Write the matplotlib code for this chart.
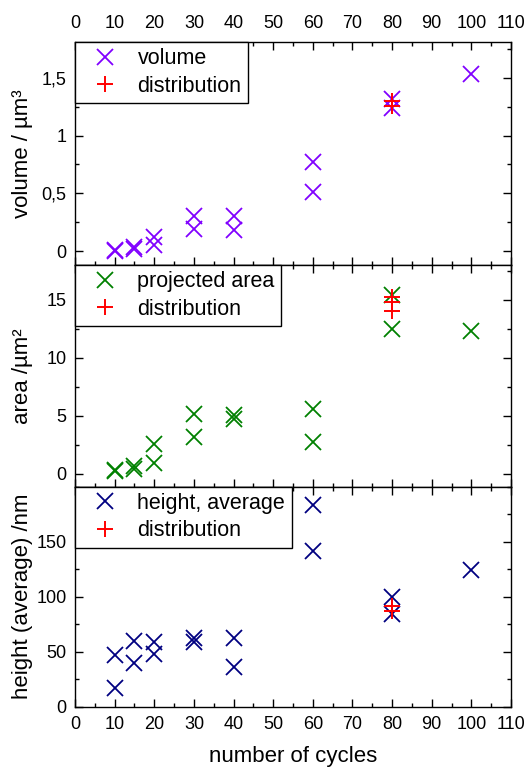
import matplotlib
matplotlib.use("Agg")
import matplotlib.pyplot as plt
from matplotlib.ticker import MultipleLocator, FixedLocator, FuncFormatter

plt.rcParams['font.family'] = ['Liberation Sans', 'DejaVu Sans']

# number of cycles for each measured sample
cycles = [10, 10, 15, 15, 20, 20, 30, 30, 40, 40, 60, 60, 80, 80, 100]
dist_cycles_vol = [80, 80]
dist_cycles_area = [80, 80, 80]
dist_cycles_height = [80, 80]

# particle volume (µm³)
volume = [0.00, 0.01, 0.02, 0.04, 0.12, 0.05, 0.30, 0.19, 0.30, 0.18,
          0.77, 0.51, 1.32, 1.24, 1.53]
volume_dist = [1.30, 1.26]

# projected area (µm²)
area = [0.25, 0.35, 0.45, 0.65, 2.6, 0.9, 5.15, 3.2, 5.1, 4.75,
        5.55, 2.75, 15.4, 12.5, 12.3]
area_dist = [15.25, 14.85, 14.05]

# average height (nm)
height = [47, 16.5, 60, 39.5, 59, 47.5, 62, 59, 62.5, 36,
          183.5, 141, 100, 84, 124.5]
height_dist = [91, 87]

x_ticks = list(range(0, 111, 10))

panels = [
    dict(y=volume, yd=dist_cycles_vol, ydv=volume_dist, color='#8000FF',
         label='volume', ylabel='volume / µm³', ylim=(-0.12, 1.81),
         minor=0.25, ticks=[0, 0.5, 1, 1.5]),
    dict(y=area, yd=dist_cycles_area, ydv=area_dist, color='#008000',
         label='projected area', ylabel='area /µm²', ylim=(-1.1, 18.0),
         minor=2.5, ticks=[0, 5, 10, 15]),
    dict(y=height, yd=dist_cycles_height, ydv=height_dist, color='#000080',
         label='height, average', ylabel='height (average) /nm', ylim=(0, 200),
         minor=25, ticks=[0, 50, 100, 150]),
]

fig = plt.figure(figsize=(5.28, 7.67), dpi=100)
left, right = 75 / 528, 511 / 528
edges = [42, 265, 486.5, 706.5]

def comma_fmt(v, pos):
    return ('%g' % v).replace('.', ',')

axes = []
for i, p in enumerate(panels):
    top = 1 - edges[i] / 767
    bot = 1 - edges[i + 1] / 767
    ax = fig.add_axes([left, bot, right - left, top - bot])
    axes.append(ax)
    ax.plot(cycles, p['y'], linestyle='none', marker='x', markersize=11,
            markeredgewidth=1.3, color=p['color'], label=p['label'], zorder=3)
    ax.plot(p['yd'], p['ydv'], linestyle='none', marker='+', markersize=12,
            markeredgewidth=1.4, color='#FF0000', label='distribution', zorder=4)
    ax.set_xlim(0, 110)
    ax.set_ylim(*p['ylim'])
    ax.xaxis.set_major_locator(FixedLocator(x_ticks))
    ax.xaxis.set_minor_locator(MultipleLocator(5))
    ax.yaxis.set_major_locator(FixedLocator(p['ticks']))
    ax.yaxis.set_minor_locator(MultipleLocator(p['minor']))
    ax.yaxis.set_major_formatter(FuncFormatter(comma_fmt))
    ax.tick_params(which='both', direction='in', top=True, right=True,
                   bottom=True, left=True, width=1.0, labelsize=13, pad=6)
    ax.tick_params(axis='x', which='major', pad=7)
    ax.tick_params(which='major', length=6)
    ax.tick_params(which='minor', length=3)
    ax.tick_params(axis='x', labelbottom=(i == 2), labeltop=(i == 0))
    for s in ax.spines.values():
        s.set_linewidth(1.0)
    ax.set_ylabel(p['ylabel'], fontsize=16)
    ax.yaxis.set_label_coords(-0.097, 0.5)
    leg = ax.legend(loc='upper left', bbox_to_anchor=(0, 1), borderaxespad=0,
                    fontsize=15.5, numpoints=1, fancybox=False, framealpha=1,
                    edgecolor='black', borderpad=0.3, labelspacing=0.3,
                    handlelength=2.2, handletextpad=0.4)
    leg.get_frame().set_linewidth(1.0)
    leg.set_zorder(5)

axes[2].set_xlabel('number of cycles', fontsize=16, labelpad=9)

fig.savefig('out.png', dpi=100)
